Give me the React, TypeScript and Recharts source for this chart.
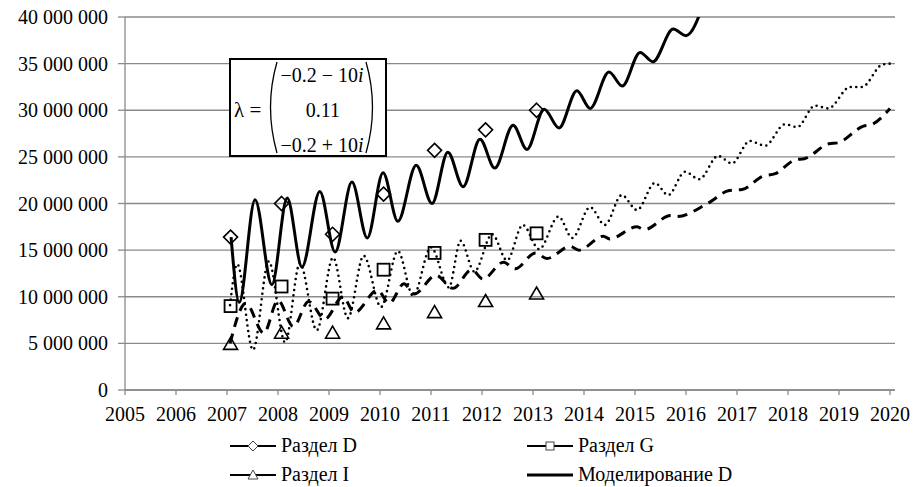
import React from 'react';
import { ComposedChart, Line, Scatter, XAxis, YAxis, CartesianGrid } from 'recharts';

// observed points, one per year (millions)
const years = [2007, 2008, 2009, 2010, 2011, 2012, 2013];
const razdelD = [16.4, 20.0, 16.7, 21.0, 25.7, 27.9, 30.0];
const razdelG = [9.0, 11.1, 9.8, 12.9, 14.7, 16.1, 16.8];
const razdelI = [5.0, 6.2, 6.2, 7.2, 8.4, 9.6, 10.4];

// model curves: [year, millions]
const modelD: [number, number][] = [
  [2007.08, 16.4], [2007.24, 9.4], [2007.55, 20.4], [2007.88, 11.3], [2008.18, 20.6],
  [2008.47, 13.2], [2008.82, 21.3], [2009.12, 14.8], [2009.45, 22.3], [2009.75, 16.3],
  [2010.06, 23.3], [2010.35, 18.1], [2010.71, 24.1], [2011.02, 20.0], [2011.33, 25.5],
  [2011.63, 21.8], [2011.96, 26.9], [2012.25, 23.8], [2012.61, 28.4], [2012.88, 25.8],
  [2013.22, 30.1], [2013.51, 28.1], [2013.86, 32.1], [2014.12, 30.2], [2014.49, 34.1],
  [2014.75, 32.6], [2015.1, 36.2], [2015.35, 35.2], [2015.75, 38.7], [2016.0, 38.0],
  [2016.35, 41.5],
];
const modelG: [number, number][] = [
  [2007.06, 9.1], [2007.2, 13.5], [2007.51, 4.3], [2007.82, 13.8], [2008.14, 5.1],
  [2008.43, 13.6], [2008.76, 6.4], [2009.08, 14.2], [2009.37, 7.7], [2009.68, 14.4],
  [2010.02, 8.9], [2010.35, 14.9], [2010.65, 10.1], [2011.0, 15.3], [2011.35, 11.0],
  [2011.58, 16.0], [2011.85, 12.7], [2012.2, 16.7], [2012.49, 13.9], [2012.8, 17.7],
  [2013.12, 15.1], [2013.5, 18.6], [2013.77, 16.3], [2014.12, 19.6], [2014.41, 17.7],
  [2014.74, 20.9], [2015.04, 19.3], [2015.39, 22.2], [2015.65, 20.9], [2015.98, 23.4],
  [2016.26, 22.6], [2016.63, 25.1], [2016.9, 24.3], [2017.25, 26.7], [2017.55, 26.2],
  [2017.94, 28.5], [2018.18, 28.2], [2018.53, 30.5], [2018.79, 30.2], [2019.22, 32.5],
  [2019.45, 32.5], [2019.85, 34.9], [2020.0, 35.0],
];
const modelI: [number, number][] = [
  [2007.06, 5.0], [2007.37, 9.3], [2007.72, 6.1], [2008.0, 9.6], [2008.3, 6.8],
  [2008.6, 9.5], [2008.92, 7.6], [2009.27, 10.0], [2009.5, 8.3], [2009.95, 10.7],
  [2010.18, 9.3], [2010.47, 11.4], [2010.67, 10.3], [2011.1, 12.3], [2011.43, 10.9],
  [2011.8, 12.9], [2012.02, 11.9], [2012.42, 13.7], [2012.65, 13.0], [2013.05, 14.7],
  [2013.27, 14.1], [2013.73, 15.4], [2013.9, 15.0], [2014.38, 16.5], [2014.5, 16.2],
  [2015.04, 17.5], [2015.18, 17.2], [2015.7, 18.7], [2015.82, 18.6], [2016.45, 20.1],
  [2016.85, 21.4], [2017.1, 21.5], [2017.5, 22.9], [2017.75, 23.2], [2018.15, 24.7],
  [2018.32, 24.8], [2018.8, 26.4], [2018.97, 26.5], [2019.48, 28.3], [2019.65, 28.5],
  [2020.0, 30.2],
];

const xTicks = [2005, 2006, 2007, 2008, 2009, 2010, 2011, 2012, 2013, 2014, 2015, 2016, 2017, 2018, 2019, 2020];
const yTicks = [0, 5e6, 10e6, 15e6, 20e6, 25e6, 30e6, 35e6, 40e6];

const M = 1e6;
const pointRows = (vals: number[]) => years.map((yr, i) => ({ x: yr + 0.07, y: vals[i] * M }));
const curveRows = (pts: [number, number][]) => pts.map(([x, y]) => ({ x, y: y * M }));

const FONT = 'Liberation Serif, DejaVu Serif, serif';
const GRID = '#8a8a8a';

const fmt = (v: number) => String(v).replace(/\B(?=(\d{3})+(?!\d))/g, ' ');

const Diamond = (p: any) => (
  <path d={`M${p.cx},${p.cy - 7} L${p.cx + 7},${p.cy} L${p.cx},${p.cy + 7} L${p.cx - 7},${p.cy} Z`}
    fill="none" stroke="#000" strokeWidth={1.6} />
);
const Square = (p: any) => (
  <rect x={p.cx - 6} y={p.cy - 6} width={12} height={12} fill="none" stroke="#000" strokeWidth={1.8} />
);
const Triangle = (p: any) => (
  <path d={`M${p.cx},${p.cy - 6} L${p.cx + 7},${p.cy + 6} L${p.cx - 7},${p.cy + 6} Z`}
    fill="none" stroke="#000" strokeWidth={1.6} />
);

const LegendItem = ({ x, y, label, marker }: { x: number; y: number; label: string; marker: string }) => (
  <g>
    <line x1={x} y1={y} x2={x + 46} y2={y} stroke="#000" strokeWidth={marker === 'none' ? 3 : 2} />
    {marker === 'diamond' && (
      <path d={`M${x + 23},${y - 5} L${x + 28},${y} L${x + 23},${y + 5} L${x + 18},${y} Z`} fill="#fff" stroke="#444" strokeWidth={1} />
    )}
    {marker === 'square' && (
      <rect x={x + 19} y={y - 4} width={8} height={8} fill="#fff" stroke="#444" strokeWidth={1} />
    )}
    {marker === 'triangle' && (
      <path d={`M${x + 23},${y - 5} L${x + 28},${y + 4} L${x + 18},${y + 4} Z`} fill="#fff" stroke="#444" strokeWidth={1} />
    )}
    <text x={x + 51} y={y + 6} fontFamily={FONT} fontSize={20} fill="#000">{label}</text>
  </g>
);

const App: React.FC = () => {
  return (
    <div style={{ position: 'absolute', left: 0, top: 0, width: 914, height: 487, background: '#fff' }}>
      <ComposedChart width={914} height={487} margin={{ top: 17, right: 19, bottom: 67, left: 0 }}>
        <CartesianGrid horizontal vertical={false} stroke={GRID} strokeWidth={1.3} />
        <XAxis
          type="number"
          dataKey="x"
          domain={[2005, 2020]}
          ticks={xTicks}
          interval={0}
          padding={{ left: 0, right: 5 }}
          height={30}
          tickSize={5}
          tickMargin={12}
          axisLine={{ stroke: GRID, strokeWidth: 1.3 }}
          tickLine={{ stroke: GRID, strokeWidth: 1.3 }}
          tick={{ fontFamily: FONT, fontSize: 20, fill: '#000' }}
        />
        <YAxis
          type="number"
          dataKey="y"
          domain={[0, 40e6]}
          ticks={yTicks}
          allowDataOverflow
          width={125}
          tickSize={7}
          tickMargin={10}
          tickFormatter={fmt}
          axisLine={{ stroke: GRID, strokeWidth: 1.3 }}
          tickLine={{ stroke: GRID, strokeWidth: 1.3 }}
          tick={{ fontFamily: FONT, fontSize: 20, fill: '#000' }}
        />
        <Line data={curveRows(modelG)} dataKey="y" type="monotone" stroke="#000" strokeWidth={2.6}
          strokeDasharray="0 5.5" strokeLinecap="round" dot={false} isAnimationActive={false} />
        <Line data={curveRows(modelI)} dataKey="y" type="monotone" stroke="#000" strokeWidth={3}
          strokeDasharray="10 7" dot={false} isAnimationActive={false} />
        <Line data={curveRows(modelD)} dataKey="y" type="monotone" stroke="#000" strokeWidth={3}
          dot={false} isAnimationActive={false} />
        <Scatter data={pointRows(razdelD)} dataKey="y" shape={Diamond} isAnimationActive={false} />
        <Scatter data={pointRows(razdelG)} dataKey="y" shape={Square} isAnimationActive={false} />
        <Scatter data={pointRows(razdelI)} dataKey="y" shape={Triangle} isAnimationActive={false} />
      </ComposedChart>

      <svg width={914} height={487} style={{ position: 'absolute', left: 0, top: 0, pointerEvents: 'none' }}>
        <rect x={230} y={59} width={156} height={97} fill="#fff" stroke="#000" strokeWidth={2} />
        <text x={234} y={117} fontFamily={FONT} fontSize={21} fill="#000">λ =</text>
        <path d="M277,62 Q264,107 277,153" fill="none" stroke="#000" strokeWidth={1.3} />
        <path d="M366,62 Q379,107 366,153" fill="none" stroke="#000" strokeWidth={1.3} />
        <text x={322} y={82} textAnchor="middle" fontFamily={FONT} fontSize={20} fill="#000">
          −0.2 − 10<tspan fontStyle="italic">i</tspan>
        </text>
        <text x={323} y={117} textAnchor="middle" fontFamily={FONT} fontSize={20} fill="#000">0.11</text>
        <text x={322} y={152} textAnchor="middle" fontFamily={FONT} fontSize={20} fill="#000">
          −0.2 + 10<tspan fontStyle="italic">i</tspan>
        </text>

        <LegendItem x={230} y={446} label="Раздел D" marker="diamond" />
        <LegendItem x={527} y={446} label="Раздел G" marker="square" />
        <LegendItem x={230} y={475} label="Раздел I" marker="triangle" />
        <LegendItem x={527} y={475} label="Моделирование D" marker="none" />
      </svg>
    </div>
  );
};

export default App;
